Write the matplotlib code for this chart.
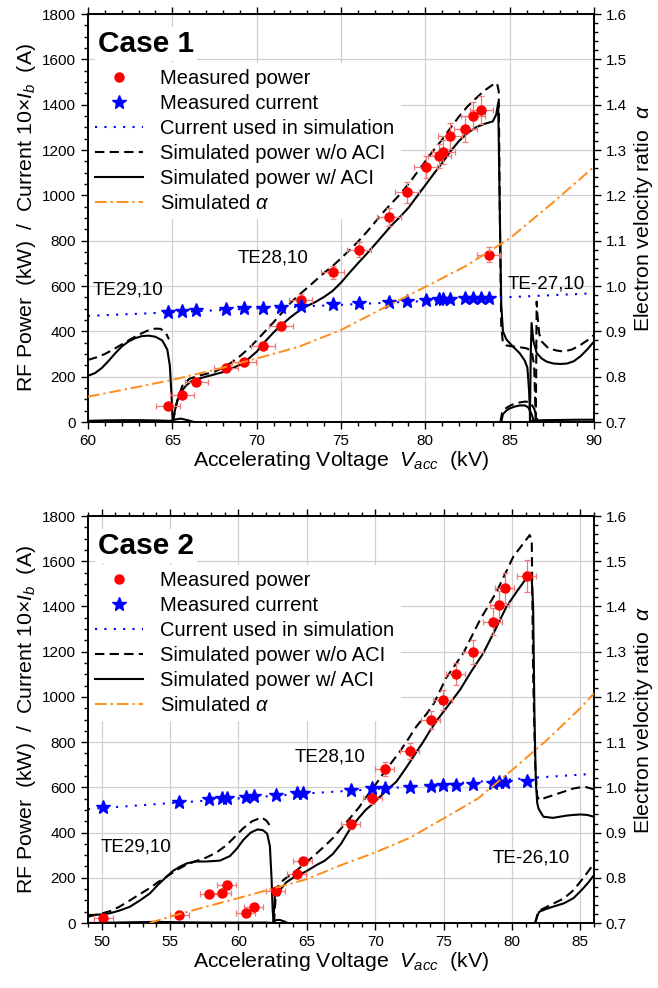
import matplotlib
matplotlib.use("Agg")
import matplotlib.pyplot as plt
from matplotlib.lines import Line2D
import numpy as np

plt.rcParams['font.family'] = ['Liberation Sans', 'DejaVu Sans']
plt.rcParams['mathtext.fontset'] = 'custom'
plt.rcParams['mathtext.rm'] = 'Liberation Sans'
plt.rcParams['mathtext.it'] = 'Liberation Sans:italic'
plt.rcParams['mathtext.bf'] = 'Liberation Sans:bold'

# ---------------- Case 1 data ----------------
c1_meas_v = [64.75, 65.58, 66.43, 68.17, 69.25, 70.37, 71.45, 72.6, 74.5, 76.05,
             77.85, 78.9, 80.02, 80.83, 81.07, 81.48, 82.37, 82.84, 83.33, 83.75]
c1_meas_p = [70, 119, 178, 237, 266, 336, 424, 539, 660, 760,
             904, 1014, 1125, 1175, 1192, 1263, 1293, 1352, 1378, 738]
c1_cur_p = [487, 490, 492, 498, 502, 505, 508, 512, 520, 524,
            530, 534, 538, 541, 542, 542, 545, 545, 546, 548]
c1_simcur_v = [60, 65, 70, 75, 80, 85, 90]
c1_simcur_i = [468, 484, 501, 517, 534, 551, 568]
c1_alpha_v = [60, 62.5, 65, 67.5, 70, 72.5, 75, 77.5, 80, 82.5, 85, 87.5, 90]
c1_alpha = [0.756, 0.774, 0.793, 0.815, 0.840, 0.866, 0.903, 0.951, 0.998, 1.046, 1.105, 1.182, 1.263]

c1_sol_te29_v = [60.0, 60.4, 60.8, 61.2, 61.6, 62.0, 62.4, 62.8, 63.2, 63.6, 64.0, 64.4, 64.7, 64.85, 64.95, 65.02]
c1_sol_te29_p = [204, 215, 237, 268, 302, 333, 355, 370, 379, 381, 376, 360, 320, 250, 120, 0]
c1_dsh_te29_v = [60.0, 60.5, 61.0, 61.5, 62.0, 62.5, 63.0, 63.5, 64.0, 64.3, 64.6, 64.8]
c1_dsh_te29_p = [274, 285, 300, 320, 342, 364, 385, 402, 412, 411, 395, 365]
c1_sol_low_v = [60, 61, 62, 63, 64, 64.9, 65.1, 65.5, 65.9, 66.3]
c1_sol_low_p = [5, 7, 8, 8, 7, 5, 10, 15, 8, 0]
c1_sol_te28_v = [65.02, 65.15, 65.3, 65.5, 65.8, 66.1, 66.5, 67.0, 67.5, 68.0, 68.5, 69.0, 69.5,
                 70.0, 70.5, 71.0, 71.5, 72.0, 72.5, 73.0, 73.5, 74.0, 74.5, 75.0, 75.5, 76.0,
                 76.5, 77.0, 77.5, 78.0, 78.5, 79.0, 79.5, 80.0, 80.5, 81.0, 81.5, 82.0, 82.5,
                 83.0, 83.5, 84.0, 84.2, 84.32, 84.4, 84.5, 84.6, 84.8, 85.0, 85.3, 85.6, 85.9,
                 86.05, 86.15, 86.22]
c1_sol_te28_p = [0, 50, 95, 130, 160, 178, 190, 200, 210, 220, 235, 252, 278,
                 310, 355, 395, 430, 462, 490, 512, 530, 552, 578, 615, 658, 700,
                 740, 782, 825, 868, 905, 945, 995, 1045, 1095, 1143, 1195, 1240, 1275,
                 1300, 1315, 1326, 1356, 1408, 1000, 520, 400, 365, 348, 325, 303, 270,
                 240, 140, 0]
c1_sol_spk_v = [86.2, 86.25, 86.3, 86.4, 86.6, 86.9, 87.2, 87.6, 88.0, 88.4, 88.8, 89.2, 89.6, 90.0]
c1_sol_spk_p = [0, 300, 437, 360, 305, 280, 266, 258, 256, 258, 268, 290, 320, 355]
c1_sol_te27_v = [84.5, 84.6, 84.8, 85.0, 85.3, 85.6, 85.9, 86.1, 86.3, 86.45]
c1_sol_te27_p = [0, 35, 50, 60, 68, 73, 73, 65, 35, 0]
c1_sol_r_v = [86.3, 87, 88, 89, 90]
c1_sol_r_p = [5, 8, 9, 10, 10]
c1_dsh_te28_v = [65.05, 65.2, 65.4, 65.6, 66.0, 66.5, 67.0, 67.5, 68.0, 68.5, 69.0, 69.5, 70.0,
                 70.5, 71.0, 71.5, 72.0, 72.5, 73.0, 73.5, 74.0, 74.5, 75.0, 75.5, 76.0, 76.5,
                 77.0, 77.5, 78.0, 78.5, 79.0, 79.5, 80.0, 80.5, 81.0, 81.5, 82.0, 82.5, 83.0,
                 83.5, 84.0, 84.25, 84.35, 84.42, 84.5, 84.6, 84.8, 85.2, 85.6, 86.0, 86.3,
                 86.45, 86.55]
c1_dsh_te28_p = [0, 70, 120, 160, 190, 203, 212, 222, 240, 262, 290, 322, 360,
                 400, 440, 482, 525, 560, 592, 625, 658, 688, 722, 758, 795, 836,
                 880, 925, 965, 1005, 1050, 1100, 1150, 1200, 1246, 1298, 1348, 1392, 1428,
                 1462, 1488, 1495, 1460, 900, 420, 350, 338, 333, 330, 325, 315,
                 250, 0]
c1_dsh_spk_v = [86.55, 86.6, 86.65, 86.75, 86.9, 87.3, 87.8, 88.2, 88.7, 89.2, 89.6, 90.0]
c1_dsh_spk_p = [0, 531, 470, 390, 355, 325, 315, 311, 320, 340, 360, 384]
c1_dsh_te27_v = [84.45, 84.55, 84.8, 85.1, 85.5, 85.9, 86.2, 86.45, 86.6, 86.7]
c1_dsh_te27_p = [0, 40, 62, 75, 85, 90, 88, 60, 20, 0]

# ---------------- Case 2 data ----------------
c2_meas_v = [50.12, 55.66, 57.87, 58.77, 59.14, 60.53, 61.13, 62.74, 64.25, 64.69, 68.22,
             69.8, 70.71, 72.54, 74.07, 74.93, 75.9, 77.15, 78.58, 79.07, 79.48, 81.07]
c2_meas_p = [21, 35, 127, 134, 170, 46, 72, 142, 218, 275, 437,
             551, 680, 761, 898, 986, 1100, 1198, 1332, 1406, 1482, 1535]
c2_cur_p = [512, 537, 547, 552, 552, 559, 562, 567, 574, 577, 588,
            596, 598, 603, 607, 610, 612, 616, 619, 622, 622, 629]
c2_simcur_v = [49, 55, 60, 65, 70, 75, 80, 86]
c2_simcur_i = [504, 530, 551, 573, 592, 614, 636, 660]
c2_alpha_v = [53.5, 55, 57.5, 60, 62.5, 65, 67.5, 70, 72.5, 75, 77.5, 80, 82.5, 85, 86]
c2_alpha = [0.700, 0.714, 0.735, 0.755, 0.776, 0.797, 0.828, 0.856, 0.888, 0.931, 0.975, 1.038, 1.103, 1.175, 1.208]

c2_sol_te29_v = [49.0, 49.5, 50.0, 50.6, 51.3, 52.07, 52.8, 53.53, 54.1, 54.75, 55.2, 55.72, 56.2,
                 56.8, 57.67, 58.65, 59.38, 59.9, 60.35, 60.9, 61.4, 61.8, 62.1, 62.3, 62.42, 62.5, 62.58]
c2_sol_te29_p = [35, 36, 38, 43, 55, 72, 100, 131, 168, 205, 230, 249, 263,
                 272, 272, 276, 296, 330, 367, 400, 414, 410, 395, 340, 200, 60, 0]
c2_dsh_te29_v = [49.0, 50.0, 50.6, 51.3, 52.07, 52.8, 53.53, 54.1, 54.75, 55.5, 56.2, 57.0,
                 57.67, 58.4, 59.14, 59.8, 60.35, 61.0, 61.7, 62.06, 62.3]
c2_dsh_te29_p = [28, 42, 52, 72, 100, 128, 155, 180, 205, 235, 258, 276,
                 290, 312, 345, 385, 419, 450, 467, 452, 430]
c2_sol_low_v = [49, 51, 53, 54, 56, 58, 60, 62, 62.55, 62.7, 63.0, 63.3, 63.6]
c2_sol_low_p = [0, 2, 4, 5, 3, 2, 2, 2, 0, 12, 14, 8, 0]
c2_sol_te28_v = [62.55, 62.62, 62.7, 62.8, 62.95, 63.1, 63.5, 64.0, 64.5, 65.0, 65.7, 66.3, 66.9,
                 67.5, 68.2, 68.8, 69.3, 69.8, 70.3, 70.8, 71.55, 72.3, 73.0, 73.5, 74.0, 74.5,
                 75.2, 76.2, 77.0, 77.9, 78.8, 79.6, 80.4, 81.0, 81.43, 81.55, 81.65, 81.75,
                 81.85, 81.95, 82.3, 83.0, 83.5, 84.0, 84.5, 85.0, 85.5, 86.0]
c2_sol_te28_p = [0, 80, 140, 135, 122, 150, 180, 200, 215, 230, 256, 275, 305,
                 350, 420, 465, 500, 526, 555, 585, 625, 690, 755, 800, 850, 895,
                 951, 1031, 1110, 1193, 1300, 1399, 1470, 1520, 1540, 1400, 900, 620,
                 530, 505, 470, 465, 470, 475, 478, 480, 478, 470]
c2_dsh_te28_v = [62.6, 62.75, 63.0, 63.5, 64.0, 64.5, 65.0, 65.72, 66.3, 66.9, 67.5, 68.15, 68.8,
                 69.37, 70.0, 70.6, 71.2, 71.8, 72.4, 73.0, 73.76, 74.3, 75.2, 76.44, 77.66,
                 78.88, 80.1, 81.3, 81.45, 81.55, 81.7, 81.85, 82.0, 82.5, 83.0, 83.8, 84.5,
                 85.3, 86.0]
c2_dsh_te28_p = [0, 140, 175, 200, 220, 245, 270, 308, 340, 375, 418, 463, 510,
                 559, 610, 662, 710, 758, 812, 868, 925, 972, 1085, 1193, 1340,
                 1465, 1620, 1716, 1690, 1100, 700, 560, 544, 555, 565, 581, 595,
                 603, 591]
c2_sol_te26_v = [81.7, 81.85, 82.0, 82.5, 83.0, 83.8, 84.5, 85.1, 85.6, 86.0]
c2_sol_te26_p = [0, 30, 50, 62, 72, 87, 110, 146, 180, 212]
c2_dsh_te26_v = [81.7, 81.85, 82.0, 82.5, 83.0, 83.8, 84.5, 85.1, 85.6, 86.0]
c2_dsh_te26_p = [0, 35, 55, 70, 85, 109, 145, 190, 230, 264]

xerr_kv = 0.7
yerr_frac = 0.045

RED = '#ff0000'
ERR = '#f07a7a'
BLUE = '#0000ff'
ORANGE = '#ff8c1a'
GRID = '#d0d0d0'

AX_W = 506
fig = plt.figure(figsize=(6.58, 9.88), dpi=100)
ax1 = fig.add_axes([88/658, 1-422/988, AX_W/658, 408/988])
ax2 = fig.add_axes([88/658, 1-923/988, AX_W/658, 407/988])

DASH = (0, (4.5, 2.5))
DOT = (0, (1, 3.5))
DASHDOT = (0, (6, 2, 1.2, 2))


def draw_panel(ax, title, meas_v, meas_p, cur_p, simcur_v, simcur_i, alpha_v, alpha,
               solids, dashes, xlim, xticks, labels, ax_h):
    ax.set_xlim(*xlim)
    ax.set_ylim(0, 1800)
    ax.set_yticks(np.arange(0, 1801, 200))
    ax.set_yticks(np.arange(0, 1801, 50), minor=True)
    ax.set_xticks(xticks)
    ax.set_xticks(np.arange(xlim[0], xlim[1] + 0.01, 1), minor=True)
    ax.grid(True, which='major', color=GRID, lw=0.9, zorder=0)
    ax.set_axisbelow(True)
    for (v, p) in solids:
        ax.plot(v, p, color='black', lw=1.5, ls='-', zorder=3)
    for (v, p) in dashes:
        ax.plot(v, p, color='black', lw=1.5, ls=DASH, zorder=3)
    ax.plot(simcur_v, simcur_i, color=BLUE, lw=1.5, ls=DOT, zorder=4)
    ax.errorbar(meas_v, meas_p, xerr=xerr_kv, yerr=np.array(meas_p) * yerr_frac,
                fmt='none', ecolor=ERR, elinewidth=0.9, capsize=2.5, capthick=0.9, zorder=5)
    ax.plot(meas_v, meas_p, 'o', color=RED, ms=6.5, mec=RED, zorder=6)
    ax.plot(meas_v, cur_p, '*', color=BLUE, ms=10, mec=BLUE, zorder=6)
    for s in ax.spines.values():
        s.set_linewidth(1.2)
    ax.tick_params(which='both', direction='out', top=True, labeltop=False,
                   labelsize=11, width=1.0)
    ax.tick_params(which='major', length=5)
    ax.tick_params(which='minor', length=3)
    ax.set_ylabel(r'RF Power  (kW)  /  Current 10$\times$$I_b$  (A)', fontsize=15.3, labelpad=3)
    ax.set_xlabel(r'Accelerating Voltage  $V_{acc}$  (kV)', fontsize=15.3, labelpad=1)

    tw = ax.twinx()
    tw.set_ylim(0.7, 1.6)
    tw.set_yticks(np.arange(0.7, 1.601, 0.1))
    tw.set_yticks(np.arange(0.7, 1.601, 0.02), minor=True)
    tw.set_yticklabels(['%.1f' % t for t in np.arange(0.7, 1.601, 0.1)])
    tw.plot(alpha_v, alpha, color=ORANGE, lw=1.4, ls=DASHDOT, zorder=4)
    tw.tick_params(which='both', direction='out', labelsize=11, width=1.0)
    tw.tick_params(which='major', length=5)
    tw.tick_params(which='minor', length=3)
    tw.set_ylabel(r'Electron velocity ratio  $\alpha$', fontsize=15.3, labelpad=4)
    for s in tw.spines.values():
        s.set_linewidth(1.2)

    for (tx, ty, txt) in labels:
        ax.text(tx, ty, txt, fontsize=13.5, ha='left', va='center', zorder=7)

    handles = [
        Line2D([], [], ls='none', marker='o', color=RED, ms=6.5),
        Line2D([], [], ls='none', marker='*', color=BLUE, ms=10),
        Line2D([], [], color=BLUE, lw=1.5, ls=DOT),
        Line2D([], [], color='black', lw=1.5, ls=DASH),
        Line2D([], [], color='black', lw=1.5),
        Line2D([], [], color=ORANGE, lw=1.4, ls=DASHDOT),
    ]
    names = ['Measured power', 'Measured current', 'Current used in simulation',
             'Simulated power w/o ACI', 'Simulated power w/ ACI', r'Simulated $\alpha$']
    leg = ax.legend(handles, names, loc='upper left',
                    bbox_to_anchor=(1/AX_W, 1 - 49/ax_h),
                    fontsize=14.5, frameon=True, facecolor='white', edgecolor='none',
                    framealpha=1.0, fancybox=False, handlelength=2.4, handletextpad=0.85,
                    labelspacing=0.3, borderpad=0.3, borderaxespad=0.0)
    leg.set_zorder(2)
    ax.text(10/AX_W, 1 - 38/ax_h, title, transform=ax.transAxes, fontsize=21.5,
            fontweight='bold', ha='left', va='baseline', zorder=2,
            bbox=dict(facecolor='white', edgecolor='none', pad=2))
    return tw


draw_panel(ax1, 'Case 1', c1_meas_v, c1_meas_p, c1_cur_p, c1_simcur_v, c1_simcur_i,
           c1_alpha_v, c1_alpha,
           [(c1_sol_te29_v, c1_sol_te29_p), (c1_sol_low_v, c1_sol_low_p),
            (c1_sol_te28_v, c1_sol_te28_p), (c1_sol_spk_v, c1_sol_spk_p),
            (c1_sol_te27_v, c1_sol_te27_p), (c1_sol_r_v, c1_sol_r_p)],
           [(c1_dsh_te29_v, c1_dsh_te29_p), (c1_dsh_te28_v, c1_dsh_te28_p),
            (c1_dsh_spk_v, c1_dsh_spk_p), (c1_dsh_te27_v, c1_dsh_te27_p)],
           (60, 90), [60, 65, 70, 75, 80, 85, 90],
           [(60.3, 583, 'TE29,10'), (68.9, 724, 'TE28,10'), (84.85, 610, 'TE-27,10')], 408)

draw_panel(ax2, 'Case 2', c2_meas_v, c2_meas_p, c2_cur_p, c2_simcur_v, c2_simcur_i,
           c2_alpha_v, c2_alpha,
           [(c2_sol_te29_v, c2_sol_te29_p), (c2_sol_low_v, c2_sol_low_p),
            (c2_sol_te28_v, c2_sol_te28_p), (c2_sol_te26_v, c2_sol_te26_p)],
           [(c2_dsh_te29_v, c2_dsh_te29_p), (c2_dsh_te28_v, c2_dsh_te28_p),
            (c2_dsh_te26_v, c2_dsh_te26_p)],
           (49, 86), [50, 55, 60, 65, 70, 75, 80, 85],
           [(49.9, 337, 'TE29,10'), (64.1, 735, 'TE28,10'), (78.6, 286, 'TE-26,10')], 407)

fig.savefig('out.png', dpi=100)
